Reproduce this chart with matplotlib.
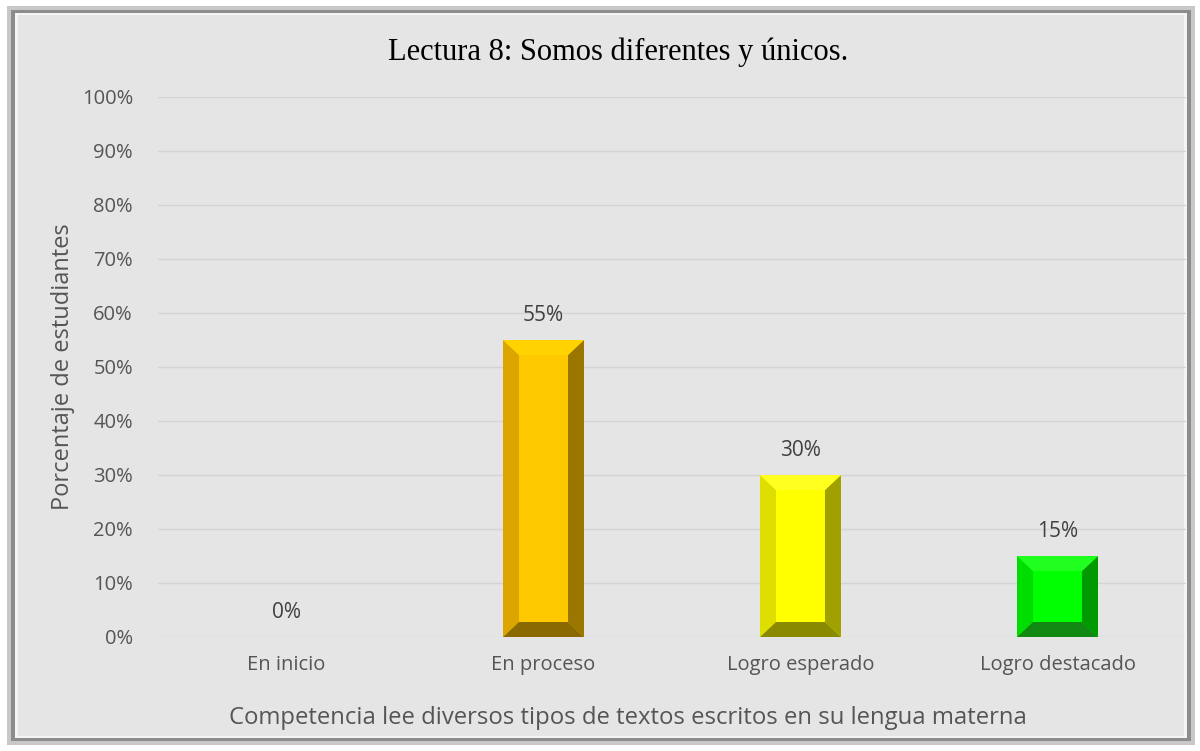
import numpy as np
import matplotlib.pyplot as plt
from matplotlib.patches import Rectangle, Polygon

# --- data ---
categories = ["En inicio", "En proceso", "Logro esperado", "Logro destacado"]
values = [0, 55, 30, 15]
front_colors = ["#FFC000", "#FFC900", "#FFFF00", "#00FF00"]
left_colors = ["#DDA500", "#DDA500", "#DEDE00", "#00DD00"]
right_colors = ["#9A7600", "#9A7600", "#A0A000", "#009900"]
top_colors = ["#FFD200", "#FFD200", "#FFFF20", "#20FF20"]
bottom_colors = ["#8A6A00", "#8A6A00", "#8A8A00", "#118811"]
yticks = list(range(0, 101, 10))

title = "Lectura 8: Somos diferentes y únicos."
ylabel = "Porcentaje de estudiantes"
xlabel = "Competencia lee diversos tipos de textos escritos en su lengua materna"

W, H = 1200, 751
fig = plt.figure(figsize=(W / 100, H / 100), dpi=100)
fig.patch.set_facecolor("white")

# chart area with bevelled frame
bg = "#E5E5E5"
frame = [
    ((7, 6, 1188, 739), "#C8C8C8"),
    ((11, 10, 1180, 731), "#8C8C8C"),
    ((15, 13, 1172, 725), "#F4F4F4"),
    ((18, 15, 1166, 721), bg),
]
for (fx, fy, fw, fh), fc in frame:
    fig.add_artist(Rectangle((fx / W, fy / H), fw / W, fh / H, transform=fig.transFigure,
                             facecolor=fc, edgecolor="none", zorder=-10))

ax = fig.add_axes([158 / W, (H - 637) / H, 1028 / W, 540 / H])
ax.set_facecolor("none")
x = np.arange(len(categories))
bw = 0.315
ax.set_xlim(-0.5, len(categories) - 0.5)
ax.set_ylim(0, 100)

ax.set_yticks(yticks)
ax.set_yticklabels([f"{t}%" for t in yticks])
ax.yaxis.grid(True, color="#D4D4D4", lw=1)
ax.set_axisbelow(True)
for s in ax.spines.values():
    s.set_visible(False)
ax.tick_params(axis="both", length=0, labelsize=14.5, labelcolor="#555555")
ax.tick_params(axis="y", pad=18)
ax.tick_params(axis="x", pad=13)
ax.set_xticks(x)
ax.set_xticklabels(categories)
for lab in ax.get_xticklabels() + ax.get_yticklabels():
    lab.set_family("Open Sans")

bars = ax.bar(x, values, width=bw, color=front_colors, edgecolor="none", zorder=2)

# bevel size: 16 px across, 15 px tall, converted to data units
fig.canvas.draw()
p0 = ax.transData.inverted().transform((0, 0))
p1 = ax.transData.inverted().transform((16, 15))
bx, by = p1 - p0
for i, b in enumerate(bars):
    v = values[i]
    if v <= 0:
        continue
    x0, x1 = b.get_x(), b.get_x() + b.get_width()
    ix0, ix1 = x0 + bx, x1 - bx
    iy0, iy1 = by, v - by
    faces = [
        ([(x0, 0), (ix0, iy0), (ix0, iy1), (x0, v)], left_colors[i]),
        ([(x1, 0), (ix1, iy0), (ix1, iy1), (x1, v)], right_colors[i]),
        ([(x0, v), (ix0, iy1), (ix1, iy1), (x1, v)], top_colors[i]),
        ([(x0, 0), (ix0, iy0), (ix1, iy0), (x1, 0)], bottom_colors[i]),
    ]
    for pts, c in faces:
        ax.add_patch(Polygon(pts, closed=True, facecolor=c, edgecolor="none", zorder=3))

for xi, v in zip(x, values):
    ax.annotate(f"{v}%", (xi, v), xytext=(0, 10), textcoords="offset points",
                ha="center", va="bottom", fontsize=15, color="#404040", family="Open Sans")

ax.set_ylabel(ylabel, fontsize=17, color="#555555", family="Open Sans")
ax.yaxis.set_label_coords(-83 / 1028, 0.5)
fig.text(628 / W, (H - 718) / H, xlabel, ha="center", va="center",
         fontsize=17.2, color="#555555", family="Open Sans")
fig.text(618 / W, (H - 52) / H, title, ha="center", va="center", fontsize=22,
         color="black", family="Liberation Serif")

fig.savefig("out.png", dpi=100, facecolor=fig.get_facecolor())
